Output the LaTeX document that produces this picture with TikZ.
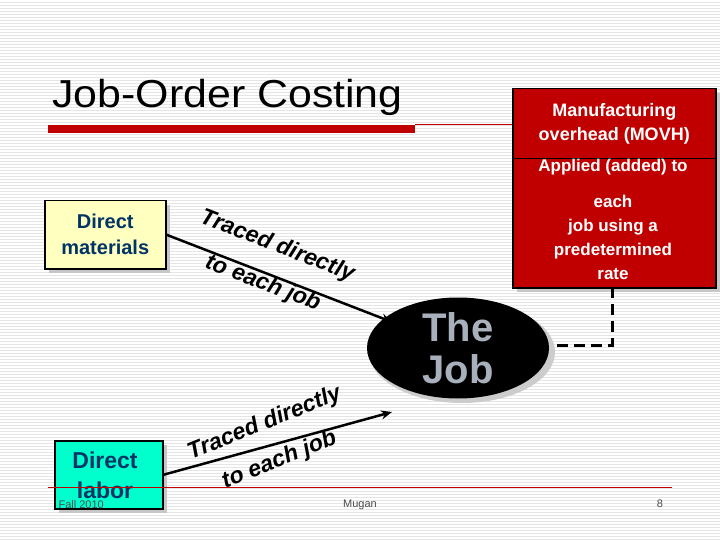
\documentclass[tikz,border=0pt]{standalone}
\usepackage{fontspec}
\setmainfont{Liberation Sans}
\usetikzlibrary{shapes.geometric,arrows.meta}
\definecolor{boxred}{HTML}{C00000}
\definecolor{dmfill}{HTML}{FFFFC0}
\definecolor{dlfill}{HTML}{00FFCC}
\definecolor{navy}{HTML}{003366}
\definecolor{jobgray}{HTML}{A8B0BC}
\tikzset{
  box/.style={draw=black,line width=1.5pt,inner sep=0pt,align=center},
  shadow/.style={fill=black!22},
  lbl/.style={font=\bfseries\itshape\fontsize{23}{40}\selectfont,align=center},
  conn/.style={line width=2.5pt,-{Stealth[length=11pt,width=9pt]}},
  foot/.style={font=\fontsize{11}{12}\selectfont,text=black!70}
}
\begin{document}
\begin{tikzpicture}[x=1pt,y=-1pt]
\useasboundingbox (0,0) rectangle (720,540);
\fill[white] (0,0) rectangle (720,540);
\foreach \y in {2,5,...,539} \draw[black!10,line width=0.6pt] (0,\y) -- (720,\y);
% title
\node[anchor=base west,font=\fontsize{39}{40}\selectfont,inner sep=0pt,xscale=1.1] (title) at (52,108) {Job-Order Costing};
\fill[boxred] (48,125) rectangle (415,133);
\draw[boxred,line width=0.6pt] (415,124) -- (512,124);
% MOVH boxes
\fill[shadow] (517,93) rectangle (720,292);
\node[box,fill=boxred,text=white,minimum width=203pt,minimum height=70pt,anchor=north west,font=\bfseries\fontsize{18}{24}\selectfont] (movh) at (512,88) {Manufacturing\\overhead (MOVH)};
\node[box,fill=boxred,minimum width=203pt,minimum height=129pt,anchor=north west] (app) at (512,158) {};
\node[font=\bfseries\fontsize{17}{19}\selectfont,text=white,inner sep=0pt] (applied) at (613,167) {Applied (added) to};
\node[font=\bfseries\fontsize{17}{24}\selectfont,text=white,align=center,inner sep=0pt] (each) at (613,237) {each\\job using a\\predetermined\\rate};
% direct materials
\fill[shadow] (49,205) rectangle (170,273);
\node[box,fill=dmfill,text=navy,minimum width=121pt,minimum height=68pt,anchor=north west,font=\bfseries\fontsize{20}{26}\selectfont] (dm) at (44,200) {Direct\\materials};
% direct labor
\fill[shadow] (59,445) rectangle (167,513);
\node[box,fill=dlfill,text=navy,minimum width=108pt,minimum height=68pt,anchor=north west] (dl) at (54,440) {};
\node[font=\bfseries\fontsize{23}{30}\selectfont,text=navy,align=center] (dltxt) at (105,475) {Direct\\labor};
% job ellipse
\fill[black!20] (462,352) ellipse (93pt and 51pt);
\node[ellipse,fill=black,minimum width=182pt,minimum height=101pt,inner sep=0pt] (job) at (458,348) {};
\node[font=\bfseries\fontsize{40}{42}\selectfont,text=jobgray,align=center] (jobtxt) at (458,348) {The\\Job};
% connectors
\draw[conn] (dm.east) -- (392,322);
\draw[conn] (dl.east) -- (392,412);
\coordinate (d0) at (557,345);
\coordinate (d1) at (612,345);
\draw[line width=3pt,dash pattern=on 11pt off 6pt] (d0) -- (d1) -- (app.south -| d1);
% labels
\node[lbl,rotate=-21,anchor=center] (l1) at (270,265) {Traced directly\\to each job};
\node[lbl,rotate=22,anchor=center] (l2) at (272,442) {Traced directly\\to each job};
% footer
\draw[boxred,line width=0.6pt] (48,487) -- (672,487);
\node[foot,anchor=base west] (fall) at (55,508) {Fall 2010};
\node[foot,anchor=base] (mugan) at (360,507) {Mugan};
\node[foot,anchor=base] (pg) at (660,507) {8};
\end{tikzpicture}
\end{document}
